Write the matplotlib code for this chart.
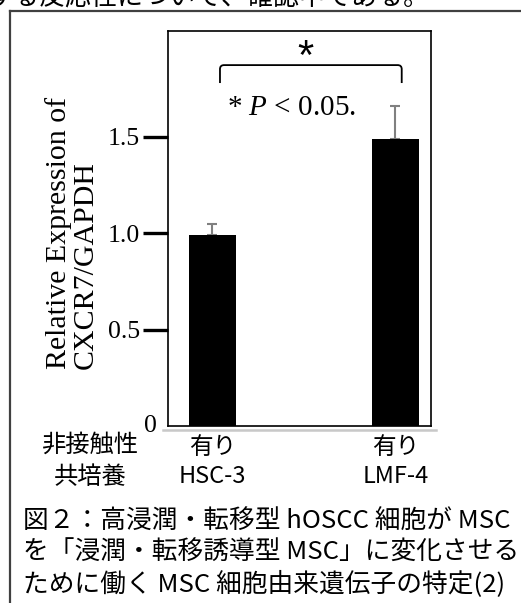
import matplotlib
matplotlib.use('Agg')
import matplotlib.pyplot as plt
import matplotlib.transforms as mtransforms
from matplotlib.path import Path
from matplotlib.patches import PathPatch
from matplotlib.lines import Line2D

plt.rcParams['font.family'] = ['Noto Sans CJK JP', 'DejaVu Sans']
plt.rcParams['mathtext.fontset'] = 'custom'
plt.rcParams['mathtext.rm'] = 'Liberation Serif'
plt.rcParams['mathtext.it'] = 'Liberation Serif:italic'

# データ
cells = ['HSC-3', 'LMF-4']
coculture = ['有り', '有り']
expression = [0.99, 1.49]
err_up = [0.06, 0.17]
y_ticks = [0.5, 1.0, 1.5]
y_ticklabels = ['0.5', '1.0', '1.5']
y_label = 'Relative Expression of\nCXCR7/GAPDH'
row_label = '非接触性\n共培養'
p_text = r'* $P$ < 0.05.'
top_line = 'する反応性について、確認中である。'
caption = ['図２：高浸潤・転移型 hOSCC 細胞が MSC',
           'を「浸潤・転移誘導型 MSC」に変化させる',
           'ために働く MSC 細胞由来遺伝子の特定(2)']

W, H = 521, 603
fig = plt.figure(figsize=(W / 100, H / 100), dpi=100)


def fx(px):
    return px / W


def fy(py):
    return 1 - py / H


serif = 'Liberation Serif'

ax = fig.add_axes([fx(168), fy(426), fx(431) - fx(168), fy(31) - fy(426)])
xpos = list(range(len(cells)))
ax.bar(xpos, expression, width=0.257, color='black', zorder=2)
ax.errorbar(xpos, expression, yerr=[[0] * len(err_up), err_up], fmt='none',
            ecolor='#808080', elinewidth=1.5, capsize=3.3, capthick=1.5, zorder=1)

ax.set_xlim(-0.243, 1.194)
ax.set_ylim(0, 2.05)
for s in ax.spines.values():
    s.set_linewidth(1.2)
    s.set_color('black')

ax.set_yticks(y_ticks, y_ticklabels, fontfamily=serif, fontsize=18.5)
ax.tick_params(axis='y', length=18, width=2.4, direction='out', pad=2)
ax.set_xticks(xpos, [f'{c}\n{n}' for c, n in zip(coculture, cells)], fontsize=17)
ax.tick_params(axis='x', length=0, pad=7)
for lbl in ax.get_xticklabels():
    lbl.set_linespacing(1.36)

# 0 のラベル
trans = mtransforms.blended_transform_factory(ax.transAxes, ax.transData)
ax.text(-0.042, 0, '0', transform=trans, ha='right', va='center',
        fontfamily=serif, fontsize=18.5)

# 有意差のブラケット
x0, x1 = 0.041, 1.034
yb, yt = 1.78, 1.873
rx, ry = 0.022, 0.021
verts = [(x0, yb), (x0, yt - ry), (x0, yt), (x0 + rx, yt), (x1 - rx, yt),
         (x1, yt), (x1, yt - ry), (x1, yb)]
codes = [Path.MOVETO, Path.LINETO, Path.CURVE3, Path.CURVE3, Path.LINETO,
         Path.CURVE3, Path.CURVE3, Path.LINETO]
ax.add_patch(PathPatch(Path(verts, codes), fill=False, lw=1.3, color='black'))
ax.text(0.508, 1.91, '*', ha='center', va='center', fontsize=30,
        fontfamily='Liberation Sans')
ax.text(0.08, 1.65, p_text, ha='left', va='center', fontfamily=serif, fontsize=21)

# y軸ラベル
fig.text(fx(72), fy(233), y_label, rotation=90, ha='center', va='center',
         multialignment='left', fontfamily=serif, fontsize=21.5, linespacing=1.05)

# 軸下の灰色線
fig.add_artist(Line2D([fx(163), fx(436)], [fy(429.5)] * 2, color='#c8c8c8', lw=1.8))

fig.text(fx(90), fy(461), row_label, ha='center', va='center',
         multialignment='center', fontsize=17.5, linespacing=1.32)

# 外枠
fig.add_artist(Line2D([fx(10), fx(10)], [fy(11), fy(603)], color='#404040', lw=1.6))
fig.add_artist(Line2D([fx(10), fx(521)], [fy(11), fy(11)], color='#404040', lw=1.6))

fig.text(fx(-13), fy(-3), top_line, ha='left', va='center', fontsize=18.7)
for i, line in enumerate(caption):
    fig.text(fx(23), fy(522 + 31 * i), line, ha='left', va='center', fontsize=18.5)

fig.savefig('out.png', dpi=100)
